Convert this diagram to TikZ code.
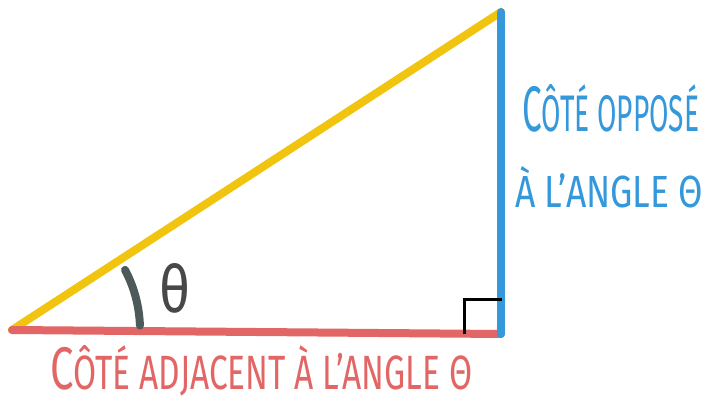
\documentclass[tikz,border=0pt]{standalone}
\usepackage{fontspec}
\setmainfont{Fira Sans}
\usetikzlibrary{calc}
\definecolor{HypLine}{RGB}{241,196,15}
\definecolor{OppLine}{RGB}{52,152,219}
\definecolor{AdjLine}{RGB}{226,102,102}
\definecolor{AngLine}{RGB}{78,90,90}
\definecolor{AngText}{RGB}{72,72,72}
%% fake hand-lettered small caps
\newcommand{\firstcap}[1]{{\fontsize{10}{10}\selectfont #1}}
\newcommand{\restcaps}[1]{{\fontsize{8}{8}\selectfont\MakeUppercase{#1}}}
\tikzset{
  side/.style={line width=8pt, line cap=round},
  marker/.style={line width=3pt, black},
  anglemark/.style={line width=8pt, line cap=round, draw=AngLine},
  sidelbl/.style={inner sep=0pt, anchor=base west},
}

\begin{document}
\begin{tikzpicture}[x=1pt,y=-1pt]
\useasboundingbox (0,0) rectangle (710,403);

%% vertices
\coordinate (A) at (12,330);
\coordinate (B) at (501,334);
\coordinate (C) at (501,12);
\coordinate (M1) at (464,334);
\coordinate (M2) at (464,300);
\coordinate (M3) at (502,300);

%% sides
\draw[side,HypLine] (A)--(C);
\draw[side,AdjLine] (A)--(B);
\draw[side,OppLine] (B)--(C);

%% right angle and angle
\draw[marker] (M1)--(M2)--(M3);
\draw[anglemark] ($(A)+(-2:128)$) arc[start angle=-2,end angle=-28,radius=128];
\node[inner sep=0pt,text=AngText] (th) at (175,288) {\resizebox{31pt}{49pt}{θ}};

%% labels
\node[sidelbl,text=AdjLine] (adj) at (50,390)
  {\resizebox{422pt}{44pt}{\firstcap{C}\restcaps{ôté adjacent à l’angle θ}}};
\node[sidelbl,text=OppLine] (opp1) at (522,132)
  {\resizebox{177pt}{47pt}{\firstcap{C}\restcaps{ôté opposé}}};
\node[sidelbl,text=OppLine] (opp2) at (515,208)
  {\resizebox{188pt}{41pt}{\restcaps{à l’angle θ}}};

\end{tikzpicture}
\end{document}
